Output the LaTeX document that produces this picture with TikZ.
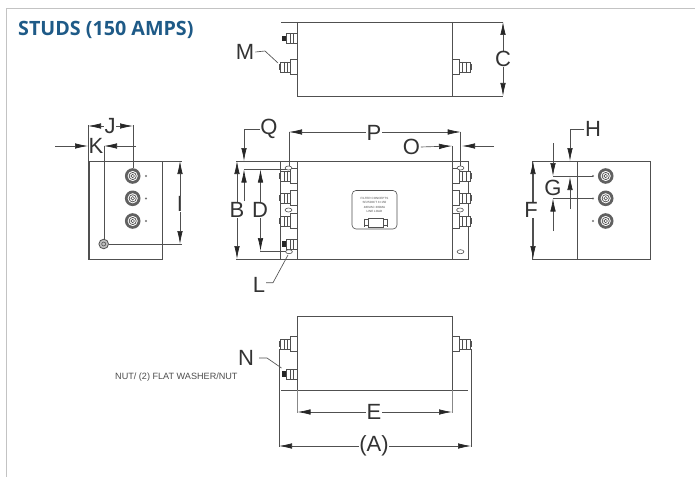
\documentclass[tikz,border=0pt]{standalone}
\usepackage{fontspec}
\setmainfont{Liberation Sans}
\newfontfamily\titlefont{Open Sans}
\usetikzlibrary{arrows.meta}
\definecolor{linegrey}{RGB}{80,80,80}
\definecolor{titleblue}{RGB}{30,90,135}
\definecolor{framegrey}{RGB}{195,195,195}
\tikzset{
  body/.style={draw=linegrey,line width=0.85pt},
  thin part/.style={draw=linegrey,line width=0.6pt},
  dimline/.style={draw=linegrey,line width=0.65pt},
  dimarrow/.style={draw=linegrey,line width=0.65pt,{Latex[length=13pt,width=5.5pt,black!85]}-{Latex[length=13pt,width=5.5pt,black!85]}},
  onearrow/.style={draw=linegrey,line width=0.65pt,-{Latex[length=13pt,width=5.5pt,black!85]}},
  dimlabel/.style={font=\fontsize{22}{22}\selectfont,text=black!80,fill=white,inner sep=0.5pt},
  freelabel/.style={font=\fontsize{22}{22}\selectfont,text=black!80,inner sep=1pt},
  stud/.pic={
    \fill[linegrey!90,even odd rule] (0,0) circle (7.8pt) (0,0) circle (5.2pt);
    \draw[linegrey,line width=0.7pt] (0,0) circle (3.6pt);
    \draw[linegrey,line width=0.6pt] (0,0) circle (1.8pt);
  },
  lstud/.pic={
    \draw[thin part,fill=white] (0,-7.5) -- (-6.5,-7.5) -- (-6.5,7.5) -- (0,7.5);
    \draw[thin part,fill=white] (-6.5,-5) rectangle (-16.5,5);
    \draw[thin part] (-10,-5) -- (-10,5) (-13,-5) -- (-13,5);
    \draw[linegrey,line width=1.6pt] (-17.5,-3) -- (-17.5,3);
  },
  rstud/.pic={
    \draw[thin part,fill=white] (0,-7.5) -- (6.5,-7.5) -- (6.5,7.5) -- (0,7.5);
    \draw[thin part,fill=white] (6.5,-5) rectangle (17.5,5);
    \draw[thin part] (10,-5) -- (10,5) (14,-5) -- (14,5);
    \draw[linegrey,line width=1.6pt] (18.5,-3) -- (18.5,3);
  },
  tipstud/.pic={
    \draw[thin part,fill=white] (-11,-5) rectangle (0,5);
    \draw[thin part] (-7,-5) -- (-7,5) (-3.5,-5) -- (-3.5,5);
    \fill[black!85] (-15.5,-2.6) rectangle (-11,2.6);
  }
}
\begin{document}
\begin{tikzpicture}[x=1pt,y=-1pt]
\useasboundingbox (0,0) rectangle (695,476);
\fill[white] (0,0) rectangle (695,476);
% frame
\draw[framegrey,line width=1.2pt] (6.3,480) -- (6.3,8.5) -- (700,8.5);
\node[anchor=west,text=titleblue,inner sep=0pt,font=\titlefont\fontsize{19.7}{20}\selectfont\bfseries] (title) at (18,30) {STUDS (150 AMPS)};

% ---------- top view
\draw[body] (281,22) -- (503,22);
\draw[body] (297,22) -- (297,96) -- (503,96);
\draw[body] (452,22) -- (452,96);
\pic at (297,38.5) {tipstud};
\pic at (297,67) {lstud};
\pic at (452.5,67) {rstud};
\coordinate (cT) at (503,22);
\coordinate (cB) at (503,96);
\node[freelabel] (M) at (245,52) {M};
\coordinate (mt) at (278,63);
\draw[dimline] (M.east) -- (265,51) -- (mt);
\draw[dimarrow] (cT) -- (cB);
\node[dimlabel] (C) at (503,59) {C};

% ---------- left view
\draw[body] (88,161) rectangle (162,259);
\draw[body] (89,161) -- (89,259);
\coordinate (I1) at (180,161);
\coordinate (I2) at (180,244);
\pic at (132.7,176) {stud};
\pic at (132.7,198.3) {stud};
\pic at (132.7,221) {stud};
\fill[linegrey!80] (146,176) circle (1.2pt) (146,198.5) circle (1.2pt) (146,221) circle (1.2pt);
\draw[linegrey,line width=0.8pt,fill=white!75!black] (103.7,244) circle (4.8pt);
\draw[linegrey,line width=0.6pt] (103.7,244) circle (2pt);
\draw[dimline] (162,161) -- (182,161) (108.5,244) -- (182,244);
\draw[dimarrow] (I1) -- (I2);
\node[dimlabel] (I) at (180,204) {I};
% J
\coordinate (Ja) at (88,126);
\coordinate (Jb) at (133,126);
\draw[dimline] (88,161) -- (88,124.5) (133,168) -- (133,124.5);
\draw[dimarrow] (Ja) -- (Jb);
\node[dimlabel,inner sep=0.5pt] (J) at (110,126) {J};
% K
\coordinate (Ka) at (55,146);
\coordinate (Kb) at (88,146);
\coordinate (Kc) at (104,146);
\coordinate (Kd) at (136,146);
\draw[onearrow] (Ka) -- (Kb);
\draw[onearrow] (Kd) -- (Kc);
\draw[dimline] (104,146) -- (104,240);
\node[dimlabel,fill=none] (K) at (96,146) {K};

% ---------- front view
\draw[body] (297,161) rectangle (452,259);
\draw[body] (236,161) -- (297,161) (236,259) -- (297,259);
\draw[body] (280,161) -- (280,259);
\draw[body] (452,161) -- (468,161) -- (468,259) -- (452,259);
% front studs, left
\foreach \yy in {176,198,221}{\pic at (297,\yy) {lstud};}
\pic at (297,244) {tipstud};
\draw[thin part,fill=white] (288.5,168) ellipse (3.4pt and 2pt);
\draw[thin part,fill=white] (288.5,210) ellipse (3.4pt and 2pt);
\draw[thin part,fill=white] (289,251.7) ellipse (3.4pt and 2pt);
% front studs, right
\foreach \yy in {176,198,221}{\pic at (452.5,\yy) {rstud};}
\draw[thin part,fill=white] (460.5,168) ellipse (3.4pt and 2pt);
\draw[thin part,fill=white] (460,210) ellipse (3.4pt and 2pt);
\draw[thin part,fill=white] (460.5,251.7) ellipse (3.4pt and 2pt);
% label plate
\draw[thin part,rounded corners=4pt] (352,190.5) rectangle (397,229);
\node[font=\fontsize{3}{4.6}\selectfont,text=black!70,align=center,inner sep=0pt] (plate) at (374.5,205) {FILTER CONCEPTS\\SF2503CT 3×150\\480VAC  300MA\\LINE  LOAD};
\draw[thin part] (368,218) rectangle (383,227);
\draw[thin part] (364,219.5) -- (368,219.5) (364,225.5) -- (368,225.5) (383,219.5) -- (387,219.5) (383,225.5) -- (387,225.5);
\draw[thin part] (364,218.5) -- (364,226.5) (387,218.5) -- (387,226.5);
% Q
\coordinate (Qc) at (244,129);
\coordinate (Qt) at (244,161);
\node[dimlabel,fill=none] (Q) at (269,129) {Q};
\draw[onearrow] (Q.west) -- (Qc) -- (Qt);
% B
\coordinate (Ba) at (237,161);
\coordinate (Bb) at (237,259);
\draw[dimarrow] (Ba) -- (Bb);
\node[dimlabel] (B) at (237,210) {B};
% small up arrow to D top line
\coordinate (Dtop) at (244,169.5);
\coordinate (Dlow) at (244,201);
\draw[onearrow] (Dlow) -- (Dtop);
\draw[dimline] (244,169.5) -- (286,169.5) (260,251) -- (286,251);
% D
\coordinate (Da) at (260.5,169.5);
\coordinate (Db) at (260.5,251);
\draw[dimarrow] (Da) -- (Db);
\node[dimlabel] (D) at (260,210) {D};
% L
\node[freelabel] (L) at (259,285) {L};
\draw[dimline] (266,282.7) -- (273,282.7) -- (288,255);
% P
\coordinate (Pa) at (289,132);
\coordinate (Pb) at (460.7,132);
\draw[dimline] (289,132) -- (289,166) (460.7,132) -- (460.7,166);
\draw[dimarrow] (Pa) -- (Pb);
\node[dimlabel] (P) at (374,133) {P};
% O
\node[dimlabel,fill=none] (O) at (411.5,147) {O};
\coordinate (Oa) at (452,146);
\coordinate (Ob) at (462,146);
\coordinate (Oc) at (494,146);
\draw[onearrow] (O.east) -- (Oa);
\draw[dimline] (452,146) -- (452,161);
\draw[onearrow] (Oc) -- (Ob);

% ---------- right view
\draw[body] (532,161) rectangle (650,259);
\draw[body] (577,161) -- (577,259);
\pic at (605.7,176) {stud};
\pic at (605.7,198.3) {stud};
\pic at (605.7,221) {stud};
\fill[linegrey!80] (593,176) circle (1.2pt) (593,198.5) circle (1.2pt) (593,221) circle (1.2pt);
% F
\coordinate (Fa) at (533,161);
\coordinate (Fb) at (533,259);
\draw[dimarrow] (Fa) -- (Fb);
\node[dimlabel] (F) at (531,210) {F};
% G
\coordinate (Gt) at (553,176);
\coordinate (Gm) at (553,198.5);
\draw[dimline] (553,176) -- (593,176) (553,198.5) -- (593,198.5);
\draw[onearrow] (553,143) -- (Gt);
\draw[onearrow] (553,231) -- (Gm);
\node[dimlabel,fill=none] (G) at (553,188) {G};
% H
\node[dimlabel,fill=none] (H) at (593,129) {H};
\coordinate (Hc) at (570,129);
\coordinate (Ht) at (570,161);
\draw[onearrow] (H.west) -- (Hc) -- (Ht);
\draw[onearrow] (570,209) -- (570,177);

% ---------- bottom view
\draw[body] (297,316) rectangle (452,390);
\draw[body] (281,390) -- (468,390);
\pic at (297,344) {lstud};
\pic at (297,374) {tipstud};
\pic at (452.5,344) {rstud};
\draw[dimline] (279,349) -- (279,447) (471,349) -- (471,447);
\draw[framegrey!70!black,line width=0.6pt] (297.5,390) -- (297.5,413) (452,390) -- (452,413);
\coordinate (Ea) at (297.5,412);
\coordinate (Eb) at (452,412);
\draw[dimarrow] (Ea) -- (Eb);
\node[dimlabel] (E) at (374,412) {E};
\coordinate (Aa) at (279,446);
\coordinate (Ab) at (471,446);
\draw[dimarrow] (Aa) -- (Ab);
\node[dimlabel] (A) at (374,446) {(A)};
\node[freelabel] (N) at (246,358) {N};
\draw[dimline] (259,358) -- (267,358) -- (281.5,368);
\node[anchor=west,inner sep=0pt,text=black!70,font=\fontsize{9.1}{10}\selectfont] (nut) at (115,377) {NUT/ (2) FLAT WASHER/NUT};
\end{tikzpicture}
\end{document}
